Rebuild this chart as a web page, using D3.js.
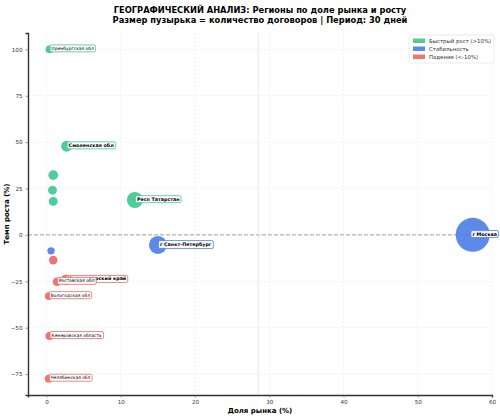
<!DOCTYPE html>
<html>
<head>
<meta charset="utf-8">
<script src="https://cdn.jsdelivr.net/npm/d3@7"></script>
<style>
  body { margin: 0; background: #fff; }
  text { font-family: "DejaVu Sans", sans-serif; }
</style>
</head>
<body>
<div id="chart"></div>
<script>
// data
const regions = ['г Москва', 'г Санкт-Петербург', 'Респ Татарстан', 'Смоленская обл', 'Краснодарский край',
    'Оренбургская обл', 'Регион 7', 'Регион 8', 'Регион 9', 'Регион 10', 'Регион 11',
    'Ростовская обл', 'Вологодская обл', 'Кемеровская область', 'Челябинская обл'];
const marketShare = [57.4, 15.0, 11.9, 2.7, 2.6, 0.4, 0.9, 0.8, 0.9, 0.6, 0.9, 1.4, 0.3, 0.4, 0.3];
const growth = [0, -5.4, 18.8, 47.8, -24.2, 100, 32.2, 24.1, 18.0, -8.6, -13.6, -25.3, -33.0, -54.5, -77.5];
const contracts = [300, 84, 66, 31, 27, 16, 24, 20, 20, 14, 19, 19, 16, 17, 16];
const labeled = ['г Москва', 'г Санкт-Петербург', 'Респ Татарстан', 'Смоленская обл', 'Краснодарский край',
    'Оренбургская обл', 'Ростовская обл', 'Вологодская обл', 'Кемеровская область', 'Челябинская обл'];
const boldLabels = ['г Москва', 'г Санкт-Петербург', 'Респ Татарстан', 'Смоленская обл', 'Краснодарский край'];
const xTicks = [0, 10, 20, 30, 40, 50, 60];
const yTicks = [-75, -50, -25, 0, 25, 50, 75, 100];
const avgLine = 28.5;

const categories = ['Быстрый рост (>10%)', 'Стабильность', 'Падение (<-10%)'];
const catColors = ['#3ec98e', '#4f7fe6', '#f06868'];

function category(g) {
    if (g > 10) return 0;
    if (g < -10) return 2;
    return 1;
}

let width = 500;
let height = 419;

let svg = d3.select('#chart')
    .append('svg')
    .attr('width', width)
    .attr('height', height);

const x = d3.scaleLinear().domain([-2.5, 60]).range([28, 492]);
const y = d3.scaleLinear().domain([-86.3, 108.8]).range([395, 33]);
const r = d3.scaleSqrt().domain([0, 300]).range([0, 17]);

// grid
svg.append('g')
    .selectAll('line')
    .data(xTicks)
    .join('line')
    .attr('x1', d => x(d)).attr('x2', d => x(d))
    .attr('y1', 33).attr('y2', 395)
    .style('stroke', '#e8e8e8')
    .style('stroke-dasharray', '2,2')
    .style('stroke-width', 0.6);
svg.append('g')
    .selectAll('line')
    .data(yTicks)
    .join('line')
    .attr('x1', 28).attr('x2', 492)
    .attr('y1', d => y(d)).attr('y2', d => y(d))
    .style('stroke', '#e8e8e8')
    .style('stroke-dasharray', '2,2')
    .style('stroke-width', 0.6);

// reference lines
svg.append('line')
    .attr('x1', 28).attr('x2', 492)
    .attr('y1', y(0)).attr('y2', y(0))
    .style('stroke', '#999')
    .style('stroke-dasharray', '4,2')
    .style('stroke-width', 0.9);
svg.append('line')
    .attr('x1', x(avgLine)).attr('x2', x(avgLine))
    .attr('y1', 33).attr('y2', 395)
    .style('stroke', '#e2e2e2')
    .style('stroke-width', 0.8);

// axes
let xAxis = svg.append('g')
    .attr('transform', 'translate(0,395)')
    .call(d3.axisBottom(x).tickValues(xTicks).tickSize(2.5).tickPadding(3));
let yAxis = svg.append('g')
    .attr('transform', 'translate(28,0)')
    .call(d3.axisLeft(y).tickValues(yTicks).tickSize(2.5).tickPadding(3)
        .tickFormat(d => d < 0 ? '\u2212' + Math.abs(d) : d));
[xAxis, yAxis].forEach(ax => {
    ax.select('.domain').style('stroke', '#333').style('stroke-width', 1.4);
    ax.selectAll('.tick line').style('stroke', '#555').style('stroke-width', 0.6);
    ax.selectAll('.tick text').style('font-size', '5.6px').style('fill', '#333');
});

// bubbles
let data = regions.map((name, i) => ({
    name: name,
    share: marketShare[i],
    growth: growth[i],
    n: contracts[i],
    cat: category(growth[i])
}));

svg.append('g')
    .selectAll('circle')
    .data(data.slice().sort((a, b) => b.n - a.n))
    .join('circle')
    .attr('cx', d => x(d.share))
    .attr('cy', d => y(d.growth))
    .attr('r', d => r(d.n))
    .style('fill', d => catColors[d.cat])
    .style('opacity', 0.92);

// labels
let labels = svg.append('g');
data.filter(d => labeled.includes(d.name)).forEach(d => {
    let bold = boldLabels.includes(d.name);
    let g = labels.append('g');
    let t = g.append('text')
        .attr('dy', '0.35em')
        .style('font-size', bold ? '4.8px' : '4.4px')
        .style('font-weight', bold ? 'bold' : 'normal')
        .style('fill', '#000')
        .text(d.name);
    let bb = t.node().getBBox();
    g.insert('rect', 'text')
        .attr('x', bb.x - 1.5)
        .attr('y', bb.y - 1)
        .attr('width', bb.width + 3)
        .attr('height', bb.height + 2)
        .attr('rx', 1.5)
        .style('fill', '#fff')
        .style('fill-opacity', 0.9)
        .style('stroke', catColors[d.cat])
        .style('stroke-width', 0.8);
    // keep the box inside the figure
    let lx = Math.min(x(d.share) + 2, width - 3 - bb.width);
    g.attr('transform', `translate(${lx},${y(d.growth) - 1})`);
});

// titles
svg.append('text')
    .attr('x', 260).attr('y', 12.5)
    .attr('text-anchor', 'middle')
    .style('font-size', '8.3px')
    .style('font-weight', 'bold')
    .text('ГЕОГРАФИЧЕСКИЙ АНАЛИЗ: Регионы по доле рынка и росту');
svg.append('text')
    .attr('x', 260).attr('y', 22.5)
    .attr('text-anchor', 'middle')
    .style('font-size', '8.3px')
    .style('font-weight', 'bold')
    .text('Размер пузырька = количество договоров | Период: 30 дней');

svg.append('text')
    .attr('x', 260).attr('y', 413)
    .attr('text-anchor', 'middle')
    .style('font-size', '7px')
    .style('font-weight', 'bold')
    .text('Доля рынка (%)');
svg.append('text')
    .attr('transform', 'translate(9,214) rotate(-90)')
    .attr('text-anchor', 'middle')
    .style('font-size', '7px')
    .style('font-weight', 'bold')
    .text('Темп роста (%)');

// legend
let legend = svg.append('g').attr('transform', 'translate(409,35)');
legend.append('rect')
    .attr('width', 85).attr('height', 28)
    .attr('rx', 2)
    .style('fill', '#fff')
    .style('stroke', '#ddd')
    .style('stroke-width', 0.6);
categories.forEach((c, i) => {
    legend.append('rect')
        .attr('x', 4).attr('y', 3.5 + i * 8)
        .attr('width', 12).attr('height', 4.5)
        .style('fill', catColors[i])
        .style('opacity', 0.92);
    legend.append('text')
        .attr('x', 20).attr('y', 5.8 + i * 8)
        .attr('dy', '0.35em')
        .style('font-size', '5.4px')
        .style('fill', '#333')
        .text(c);
});
</script>
</body>
</html>
